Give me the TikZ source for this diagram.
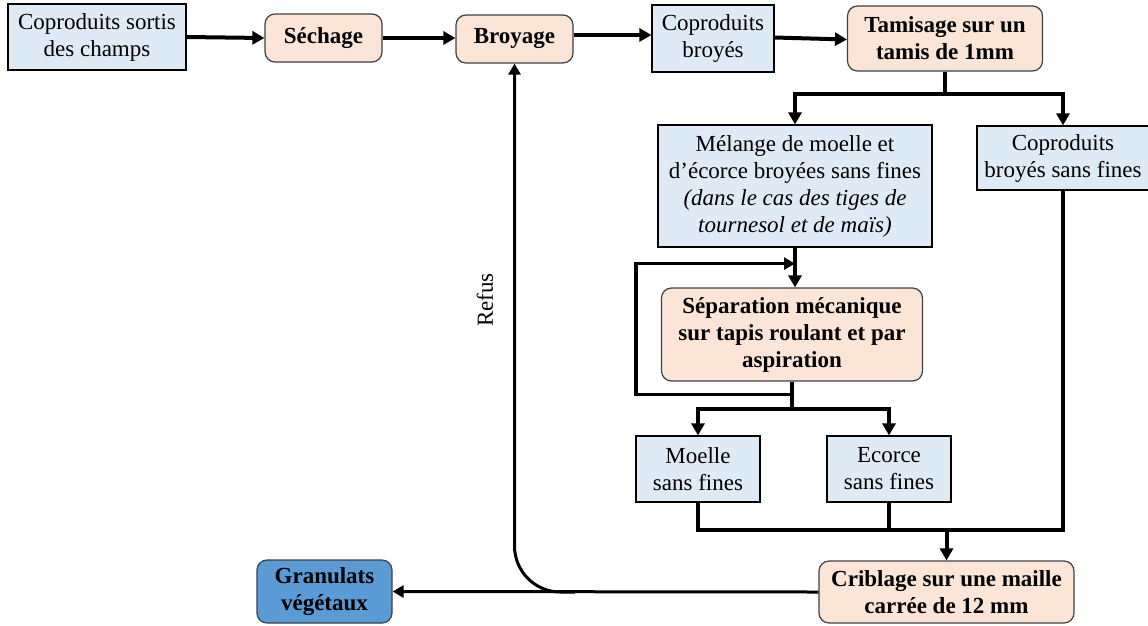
\documentclass[tikz,border=0pt]{standalone}
\usepackage{fontspec}
\setmainfont{Liberation Serif}
\usetikzlibrary{arrows.meta}
\definecolor{lblue}{HTML}{DEEBF7}
\definecolor{peach}{HTML}{FBE5D6}
\definecolor{gblue}{HTML}{5B9BD5}
\definecolor{dgray}{HTML}{404040}
\tikzset{
  base/.style={draw, align=center, inner sep=0pt, font=\fontsize{23}{27}\selectfont},
  bluebox/.style={base, fill=lblue, draw=black, line width=1.2pt},
  peachbox/.style={base, fill=peach, draw=dgray, rounded corners=10pt, line width=1.2pt, font=\bfseries\fontsize{23}{27}\selectfont},
  granbox/.style={peachbox, fill=gblue},
  conn/.style={line width=4pt, -{Triangle[length=12pt,width=13pt]}},
  thinconn/.style={line width=3pt, -{Triangle[length=11pt,width=12pt]}},
  plain/.style={line width=4pt},
  lbl/.style={font=\fontsize{23}{27}\selectfont}
}
\begin{document}
\begin{tikzpicture}[x=1pt,y=-1pt]
\useasboundingbox (0,0) rectangle (1148,625);
% nodes
\node[bluebox, minimum width=178pt, minimum height=66pt] (src) at (97,37) {Coproduits sortis\\des champs};
\node[peachbox, minimum width=117pt, minimum height=48pt] (sech) at (323.5,38) {Séchage};
\node[peachbox, minimum width=117pt, minimum height=48pt] (broy) at (514.5,39) {Broyage};
\node[bluebox, minimum width=122pt, minimum height=67pt] (cb) at (713,38.5) {Coproduits\\broyés};
\node[peachbox, minimum width=195pt, minimum height=65pt] (tam) at (945,38.5) {Tamisage sur un\\tamis de 1mm};
\node[bluebox, minimum width=274pt, minimum height=122pt] (mel) at (795,186) {Mélange de moelle et\\d’écorce broyées sans fines\\\textit{(dans le cas des tiges de}\\\textit{tournesol et de maïs)}};
\node[bluebox, minimum width=172pt, minimum height=64pt] (rbox) at (1063,158) {Coproduits\\broyés sans fines};
\node[peachbox, minimum width=261pt, minimum height=93pt] (sep) at (792,334.5) {Séparation mécanique\\sur tapis roulant et par\\aspiration};
\node[bluebox, minimum width=124pt, minimum height=66pt] (moe) at (698,469) {Moelle\\sans fines};
\node[bluebox, minimum width=124pt, minimum height=66pt] (eco) at (889,469) {Ecorce\\sans fines};
\node[peachbox, minimum width=255pt, minimum height=62pt] (crib) at (946.5,592) {Criblage sur une maille\\carrée de 12 mm};
\node[granbox, minimum width=135pt, minimum height=63pt] (gran) at (324.5,591.5) {Granulats\\végétaux};
\node[lbl, rotate=90] (refus) at (485,300) {Refus};
% top row
\draw[conn] (src.east) -- (sech.west);
\draw[conn] (sech.east) -- (broy.west |- sech.east);
\coordinate (b1) at ([yshift=4pt]broy.east);
\draw[conn] (b1) -- (cb.west |- b1);
\draw[conn] ([yshift=1pt]cb.east) -- ([yshift=-1pt]tam.west);
% tamisage split
\draw[conn] (tam.south) -- ++(0,22) -| (mel.north);
\draw[conn] (tam.south) -- ++(0,22) -| (rbox.north);
% melange to separation
\draw[conn] (mel.south) -- (mel.south |- sep.north);
% loop
\draw[line width=3.2pt, -{Triangle[length=11pt,width=12pt]}] (sep.south) -- ++(0,13) -- ++(-156,0) |- ([yshift=-16pt]mel.south);
% separation split
\draw[conn] (sep.south) -- ++(0,27) -| (moe.north);
\draw[conn] (sep.south) -- ++(0,27) -| (eco.north);
% join to criblage
\coordinate (jn) at (946.5,530);
\draw[plain] (moe.south) |- (jn) -| (rbox.south);
\draw[plain] (eco.south) -- (eco.south |- jn);
\draw[conn] (jn) -- (crib.north);
% criblage to granulats
\draw[thinconn] (crib.west) -- (gran.east);
% refus
\coordinate (jr) at (575,592);
\draw[thinconn, rounded corners=46pt] (jr) -| (broy.south);
\end{tikzpicture}
\end{document}
